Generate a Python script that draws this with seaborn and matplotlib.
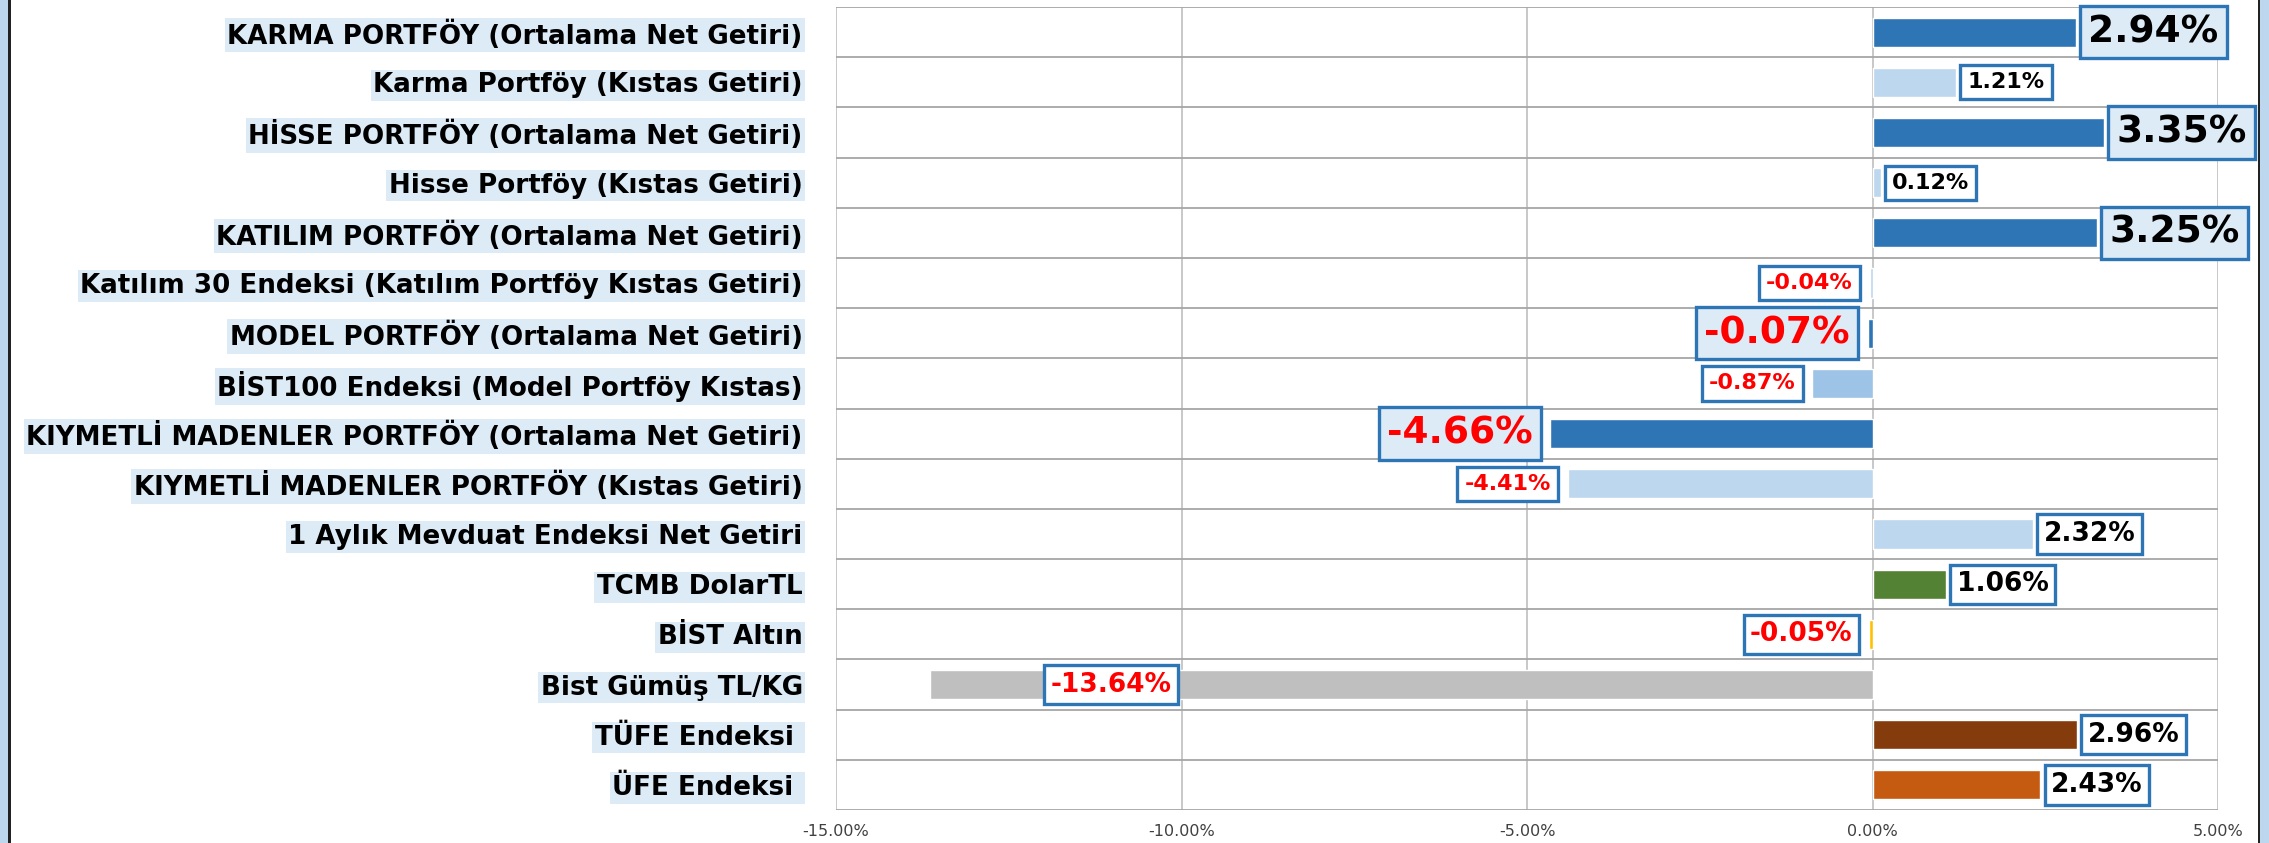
import numpy as np
import matplotlib
matplotlib.use("Agg")
import matplotlib.pyplot as plt
import seaborn as sns
from matplotlib.patches import Rectangle

categories = [
    "KARMA PORTFÖY (Ortalama Net Getiri)",
    "Karma Portföy (Kıstas Getiri)",
    "HİSSE PORTFÖY (Ortalama Net Getiri)",
    "Hisse Portföy (Kıstas Getiri)",
    "KATILIM PORTFÖY (Ortalama Net Getiri)",
    "Katılım 30 Endeksi (Katılım Portföy Kıstas Getiri)",
    "MODEL PORTFÖY (Ortalama Net Getiri)",
    "BİST100 Endeksi (Model Portföy Kıstas)",
    "KIYMETLİ MADENLER PORTFÖY (Ortalama Net Getiri)",
    "KIYMETLİ MADENLER PORTFÖY (Kıstas Getiri)",
    "1 Aylık Mevduat Endeksi Net Getiri",
    "TCMB DolarTL",
    "BİST Altın",
    "Bist Gümüş TL/KG",
    "TÜFE Endeksi ",
    "ÜFE Endeksi ",
]
values = [2.94, 1.21, 3.35, 0.12, 3.25, -0.04, -0.07, -0.87, -4.66, -4.41,
          2.32, 1.06, -0.05, -13.64, 2.96, 2.43]
x_ticks = [-15, -10, -5, 0, 5]

# styles
DARK = "#2E75B6"
LIGHT = "#BDD7EE"
bar_colors = [DARK, LIGHT, DARK, LIGHT, DARK, LIGHT, DARK, "#9DC3E6", DARK, LIGHT,
              LIGHT, "#548235", "#FFC000", "#BFBFBF", "#843C0C", "#C55A11"]
label_kind = ["big", "small", "big", "small", "big", "small", "big", "small", "big", "small",
              "med", "med", "med", "med", "med", "med"]
kind_size = {"big": 27, "med": 19, "small": 16}
kind_pad = {"big": 0.22, "med": 0.25, "small": 0.32}
kind_fill = {"big": "#DDEBF7", "med": "white", "small": "white"}

sns.set_style("white")
plt.rcParams["font.family"] = ["DejaVu Sans"]

fig = plt.figure(figsize=(22.69, 8.43), dpi=100)
ax = fig.add_axes([836 / 2269, 1 - 810 / 843, (2218 - 836) / 2269, (810 - 7) / 843])

sns.barplot(x=values, y=categories, hue=categories, palette=bar_colors, orient="h",
            width=0.58, saturation=1, dodge=False, legend=False, ax=ax, zorder=3)

ax.set_xlim(-15, 5)
ax.set_ylim(15.5, -0.5)
ax.set_xticks(x_ticks)
ax.set_xticklabels([f"{t:.2f}%" for t in x_ticks], fontsize=11.5, color="#404040")
ax.set_yticks(np.arange(-0.5, 16, 1), minor=True)
ax.grid(False)
ax.grid(which="minor", axis="y", color="#A6A6A6", lw=1.3, zorder=1)
ax.grid(which="major", axis="x", color="#BFBFBF", lw=1.2, zorder=1)
ax.tick_params(axis="x", length=0, pad=10)
ax.tick_params(axis="y", which="both", length=0, pad=24)
for s in ax.spines.values():
    s.set_visible(False)
ax.set_xlabel("")
ax.set_ylabel("")

for lab in ax.get_yticklabels():
    lab.set_fontsize(18.8)
    lab.set_fontweight("bold")
    lab.set_color("black")
    lab.set_bbox(dict(boxstyle="square,pad=0.1", fc="#DDEBF7", ec="none"))

# value labels
for p in ax.patches:
    w = p.get_width()
    if not np.isfinite(w) or p.get_height() == 0:
        continue
    yc = p.get_y() + p.get_height() / 2
    i = int(round(yc))
    v = values[i]
    kind = label_kind[i]
    fs = kind_size[kind]
    pad = kind_pad[kind]
    pad_pt = pad * fs
    if v < -10:
        off, ha = 82 + pad_pt, "left"
    elif v >= 0:
        off, ha = 3 + pad_pt, "left"
    else:
        off, ha = -(7 + pad_pt), "right"
    ax.annotate(f"{v:.2f}%", xy=(v, yc), xytext=(off, 0), textcoords="offset points",
                ha=ha, va="center", fontsize=fs, fontweight="bold",
                color="#FF0000" if v < 0 else "black",
                bbox=dict(boxstyle=f"square,pad={pad}", fc=kind_fill[kind], ec=DARK, lw=2.4),
                zorder=6, annotation_clip=False)

# outer frame strips
fig.patches.append(Rectangle((0, 0), 8 / 2269, 1, transform=fig.transFigure,
                             fc="#BDD7EE", ec="none"))
fig.patches.append(Rectangle((8 / 2269, 0), 2.5 / 2269, 1, transform=fig.transFigure,
                             fc="#222222", ec="none"))
fig.patches.append(Rectangle((2257.5 / 2269, 0), 2.5 / 2269, 1, transform=fig.transFigure,
                             fc="#222222", ec="none"))
fig.patches.append(Rectangle((2260 / 2269, 0), 9 / 2269, 1, transform=fig.transFigure,
                             fc="#BDD7EE", ec="none"))

fig.savefig("out.png", dpi=100)
